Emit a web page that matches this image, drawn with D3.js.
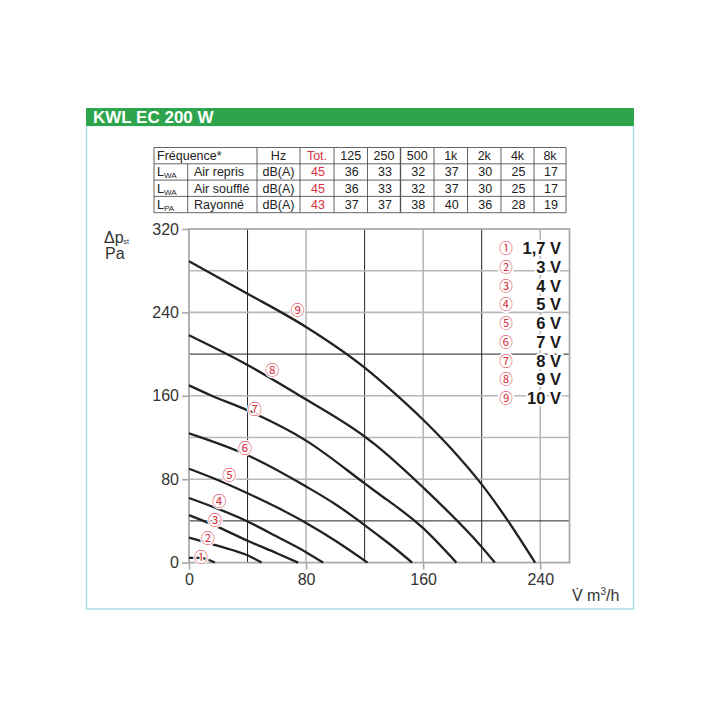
<!DOCTYPE html>
<html><head><meta charset="utf-8">
<script src="https://cdn.jsdelivr.net/npm/d3@7"></script>
<style>
html,body{margin:0;padding:0;background:#fff;}
svg{display:block;}
</style></head>
<body>
<svg id="c" width="720" height="720"></svg>
<script>
// ---- data ----
const title = "KWL EC 200 W";
const tableHeader = ["Hz", "Tot.", "125", "250", "500", "1k", "2k", "4k", "8k"];
const rowSymbols = [["L","WA"], ["L","WA"], ["L","PA"]];
const rowNames = ["Air repris", "Air soufflé", "Rayonné"];
const rowUnits = ["dB(A)", "dB(A)", "dB(A)"];
const rowValues = [
  [45, 36, 33, 32, 37, 30, 25, 17],
  [45, 36, 33, 32, 37, 30, 25, 17],
  [43, 37, 37, 38, 40, 36, 28, 19]
];
const xTicks = [0, 80, 160, 240];
const yTicks = [0, 80, 160, 240, 320];
const seriesMarks = ["①","②","③","④","⑤","⑥","⑦","⑧","⑨"];
const seriesNames = ["1,7 V","3 V","4 V","5 V","6 V","7 V","8 V","9 V","10 V"];
const curve1 = [[0,4.5],[8,4.5],[13,3],[17.7,0]];
const curve2 = [[0,24],[20,16],[40,7],[49.6,0]];
const curve3 = [[0,45.5],[20,34],[40,21],[60,9],[74.6,0]];
const curve4 = [[0,62],[20,51.5],[40,39.5],[60,25],[80,10],[91.6,0]];
const curve5 = [[0,90],[20,79],[40,66.5],[60,53],[80,38],[100,21],[122,0]];
const curve6 = [[0,124],[40,103],[80,73],[100,56],[120,36],[127,28.5],[140,14.5],[152.5,0]];
const curve7 = [[0,170],[14,161],[40,146],[80,117],[120,76],[127,68.7],[160,33],[182.7,0]];
const curve8 = [[0,218],[40,189.5],[74.6,161],[120,121],[127,113.4],[160,72],[200,15],[209,0]];
const curve9 = [[0,289],[40,258],[80,226],[120,187],[140,163],[160,137],[180,108],[200,75],[218,40],[236.5,0]];
const curves = [curve1,curve2,curve3,curve4,curve5,curve6,curve7,curve8,curve9];
const markPos = [[8.2,5],[12.8,24],[17.7,41],[20.7,59],[27.5,84],[38.2,109.6],[44.9,147.3],[56.9,184.7],[74.2,242.3]];

// ---- drawing ----
const svg = d3.select("#c");
const RED = "#d8323f";
const SANS = "'Liberation Sans', Arial, Helvetica, sans-serif";
const NARROW = "'Liberation Sans Narrow', 'Arial Narrow', 'Liberation Sans', sans-serif";
const CIRC = "'Noto Sans CJK JP', 'DejaVu Sans', sans-serif";

// frame + header
svg.append("rect").attr("x",86.5).attr("y",125.5).attr("width",547).attr("height",483.5)
  .attr("fill","none").attr("stroke","#b3dde9").attr("stroke-width",1.5);
svg.append("rect").attr("x",86).attr("y",108).attr("width",548).attr("height",18).attr("fill","#2ea54d");
svg.append("text").attr("x",93).attr("y",123).text(title)
  .attr("font-family",SANS).attr("font-weight","bold").attr("font-size",17).attr("fill","#fff");

// table
const tTop = 147.5, rowH = 16.3;
const colX = [154, 187.7, 257, 300, 334, 367.5, 400.5, 434, 467.5, 501, 534, 566];
const tg = svg.append("g").attr("font-family",NARROW).attr("font-size",12.5).attr("fill","#222");
const nRows = 4;
for (let r=0;r<=nRows;r++){
  tg.append("line").attr("x1",colX[0]).attr("x2",colX[colX.length-1])
    .attr("y1",tTop+r*rowH).attr("y2",tTop+r*rowH).attr("stroke","#555").attr("stroke-width",0.9);
}
colX.forEach((x,i)=>{
  const y1 = (i===1) ? tTop+rowH : tTop;
  tg.append("line").attr("x1",x).attr("x2",x).attr("y1",y1).attr("y2",tTop+nRows*rowH)
    .attr("stroke","#555").attr("stroke-width",(i===6)?1.4:0.9);
});
const cy = r => tTop + r*rowH + rowH/2 + 4.4;
tg.append("text").attr("x",157).attr("y",cy(0)).text("Fréquence*");
tableHeader.forEach((h,i)=>{
  tg.append("text").attr("x",(colX[i+2]+colX[i+3])/2).attr("y",cy(0)).attr("text-anchor","middle")
    .attr("fill", i===1?RED:"#222").text(h);
});
rowNames.forEach((nm,r)=>{
  const t = tg.append("text").attr("x",157).attr("y",cy(r+1));
  t.append("tspan").text(rowSymbols[r][0]);
  t.append("tspan").attr("font-size",8).attr("dy",2).text(rowSymbols[r][1]);
  tg.append("text").attr("x",194).attr("y",cy(r+1)).text(nm);
  tg.append("text").attr("x",(colX[2]+colX[3])/2).attr("y",cy(r+1)).attr("text-anchor","middle").text(rowUnits[r]);
  rowValues[r].forEach((v,i)=>{
    tg.append("text").attr("x",(colX[i+3]+colX[i+4])/2+1).attr("y",cy(r+1)).attr("text-anchor","middle")
      .attr("fill", i===0?RED:"#222").text(v);
  });
});

// chart
const x = d3.scaleLinear().domain([0,260]).range([189,569.5]);
const y = d3.scaleLinear().domain([0,320]).range([562.6,229]);
const g = svg.append("g");
d3.range(40,260,40).forEach(v=>{
  const dark = (v/40)%2===1;
  g.append("line").attr("x1",x(v)).attr("x2",x(v)).attr("y1",y(0)).attr("y2",y(320))
    .attr("stroke",dark?"#222":"#b8b8b8").attr("stroke-width",dark?1:1.6);
});
d3.range(40,320,40).forEach(v=>{
  const dark = (v===40 || v===200);
  g.append("line").attr("x1",x(0)).attr("x2",x(260)).attr("y1",y(v)).attr("y2",y(v))
    .attr("stroke",dark?"#222":"#b8b8b8").attr("stroke-width",dark?1:1.6);
});
g.append("rect").attr("x",x(0)).attr("y",y(320)).attr("width",x(260)-x(0)).attr("height",y(0)-y(320))
  .attr("fill","none").attr("stroke","#aaa").attr("stroke-width",1.8);

// axes
const yAxis = d3.axisLeft(y).tickValues(yTicks).tickSize(7).tickPadding(3);
const xAxis = d3.axisBottom(x).tickValues(xTicks).tickSize(7).tickPadding(4);
const ya = svg.append("g").attr("transform",`translate(${x(0)},0)`).call(yAxis);
const xa = svg.append("g").attr("transform",`translate(0,${y(0)})`).call(xAxis);
[ya,xa].forEach(a=>{
  a.select(".domain").remove();
  a.selectAll(".tick line").attr("stroke","#aaa").attr("stroke-width",1.6);
  a.selectAll(".tick text").attr("font-family",SANS).attr("font-size",16).attr("fill","#333");
});

// curves
const line = d3.line().x(d=>x(d[0])).y(d=>y(d[1])).curve(d3.curveMonotoneX);
svg.append("g").selectAll("path").data(curves).join("path")
  .attr("d",line).attr("fill","none").attr("stroke","#222").attr("stroke-width",2.3);

// curve marks
svg.append("g").selectAll("text").data(markPos).join("text")
  .attr("x",d=>x(d[0])).attr("y",d=>y(d[1])+5)
  .attr("text-anchor","middle").attr("font-family",CIRC).attr("font-size",14)
  .attr("fill",RED).attr("stroke","#fff").attr("stroke-width",2.5).attr("paint-order","stroke")
  .text((d,i)=>seriesMarks[i]);

// legend
const lg = svg.append("g");
seriesNames.forEach((nm,i)=>{
  const ly = 248 + i*18.75;
  lg.append("text").attr("x",506).attr("y",ly+5).attr("text-anchor","middle")
    .attr("font-family",CIRC).attr("font-size",13.5).attr("fill",RED)
    .attr("stroke","#fff").attr("stroke-width",4).attr("paint-order","stroke").text(seriesMarks[i]);
  lg.append("text").attr("x",561).attr("y",ly+6).attr("text-anchor","end")
    .attr("font-family",SANS).attr("font-weight","bold").attr("font-size",16.5).attr("fill","#1a1a1a")
    .attr("stroke","#fff").attr("stroke-width",4).attr("paint-order","stroke").text(nm);
});

// axis titles
const yt = svg.append("text").attr("font-family",SANS).attr("font-size",16).attr("fill","#333");
yt.append("tspan").attr("x",104).attr("y",243).text("Δp");
yt.append("tspan").attr("font-size",7).attr("dy",1).text("st");
svg.append("text").attr("x",105).attr("y",259).attr("font-family",SANS).attr("font-size",16).attr("fill","#333").text("Pa");
const xt = svg.append("text").attr("x",572).attr("y",601).attr("font-family",SANS).attr("font-size",16).attr("fill","#333");
xt.append("tspan").text("V̇ m");
xt.append("tspan").attr("font-size",10).attr("dy",-6).text("3");
xt.append("tspan").attr("dy",6).text("/h");
</script>
</body></html>
